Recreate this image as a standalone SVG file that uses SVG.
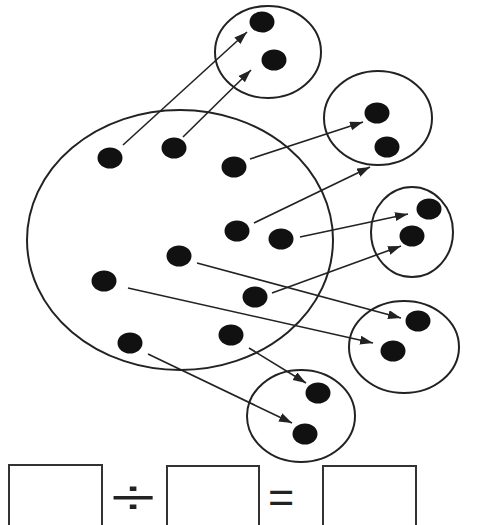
<svg xmlns="http://www.w3.org/2000/svg" width="477" height="525" viewBox="0 0 477 525">
<style>
.ring{fill:none;stroke:#222;stroke-width:2}
.dot{fill:#111}
.arr{stroke:#222;stroke-width:1.6;fill:none;marker-end:url(#ah)}
.box{fill:none;stroke:#333;stroke-width:2}
.sym{font-family:"Liberation Sans",Arial,sans-serif;fill:#222}
</style>
<defs>
<marker id="ah" markerUnits="userSpaceOnUse" markerWidth="14" markerHeight="10" refX="13" refY="4.5" orient="auto">
<path d="M0,0 L13,4.5 L0,9 Z" fill="#222"/>
</marker>
</defs>
<rect width="477" height="525" fill="#fff"/>
<g id="big">
<ellipse class="ring" cx="180" cy="240" rx="153" ry="130"/>
<ellipse class="dot" cx="110" cy="158" rx="12.5" ry="10.5"/>
<ellipse class="dot" cx="174" cy="148" rx="12.5" ry="10.5"/>
<ellipse class="dot" cx="234" cy="167" rx="12.5" ry="10.5"/>
<ellipse class="dot" cx="237" cy="231" rx="12.5" ry="10.5"/>
<ellipse class="dot" cx="281" cy="239" rx="12.5" ry="10.5"/>
<ellipse class="dot" cx="179" cy="256" rx="12.5" ry="10.5"/>
<ellipse class="dot" cx="104" cy="281" rx="12.5" ry="10.5"/>
<ellipse class="dot" cx="255" cy="297" rx="12.5" ry="10.5"/>
<ellipse class="dot" cx="130" cy="343" rx="12.5" ry="10.5"/>
<ellipse class="dot" cx="231" cy="335" rx="12.5" ry="10.5"/>
</g>
<g id="c1">
<ellipse class="ring" cx="268" cy="52" rx="53" ry="46"/>
<ellipse class="dot" cx="262" cy="22" rx="12.5" ry="10.5"/>
<ellipse class="dot" cx="274" cy="60" rx="12.5" ry="10.5"/>
</g>
<g id="c2">
<ellipse class="ring" cx="378" cy="118" rx="54" ry="47"/>
<ellipse class="dot" cx="377" cy="113" rx="12.5" ry="10.5"/>
<ellipse class="dot" cx="387" cy="147" rx="12.5" ry="10.5"/>
</g>
<g id="c3">
<ellipse class="ring" cx="412" cy="232" rx="41" ry="45"/>
<ellipse class="dot" cx="429" cy="209" rx="12.5" ry="10.5"/>
<ellipse class="dot" cx="412" cy="236" rx="12.5" ry="10.5"/>
</g>
<g id="c4">
<ellipse class="ring" cx="404" cy="347" rx="55" ry="46"/>
<ellipse class="dot" cx="418" cy="321" rx="12.5" ry="10.5"/>
<ellipse class="dot" cx="393" cy="351" rx="12.5" ry="10.5"/>
</g>
<g id="c5">
<ellipse class="ring" cx="301" cy="416" rx="54" ry="46"/>
<ellipse class="dot" cx="318" cy="393" rx="12.5" ry="10.5"/>
<ellipse class="dot" cx="305" cy="434" rx="12.5" ry="10.5"/>
</g>
<g id="connectors">
<line class="arr" x1="123" y1="145" x2="247" y2="32"/>
<line class="arr" x1="183" y1="137" x2="251" y2="70"/>
<line class="arr" x1="250" y1="159" x2="363" y2="122"/>
<line class="arr" x1="254" y1="223" x2="370" y2="167"/>
<line class="arr" x1="300" y1="237" x2="408" y2="214"/>
<line class="arr" x1="272" y1="293" x2="401" y2="246"/>
<line class="arr" x1="197" y1="263" x2="401" y2="318"/>
<line class="arr" x1="128" y1="288" x2="373" y2="343"/>
<line class="arr" x1="249" y1="348" x2="306" y2="383"/>
<line class="arr" x1="148" y1="354" x2="292" y2="423"/>
</g>
<g id="equation">
<rect class="box" x="9" y="465" width="93" height="70"/>
<rect class="box" x="167" y="466" width="92" height="70"/>
<rect class="box" x="323" y="466" width="93" height="70"/>
<text class="sym" x="0" y="0" font-size="46" transform="translate(111,514) scale(1.75,1.1)">÷</text>
<text class="sym" x="268" y="512" font-size="45">=</text>
</g>
</svg>
